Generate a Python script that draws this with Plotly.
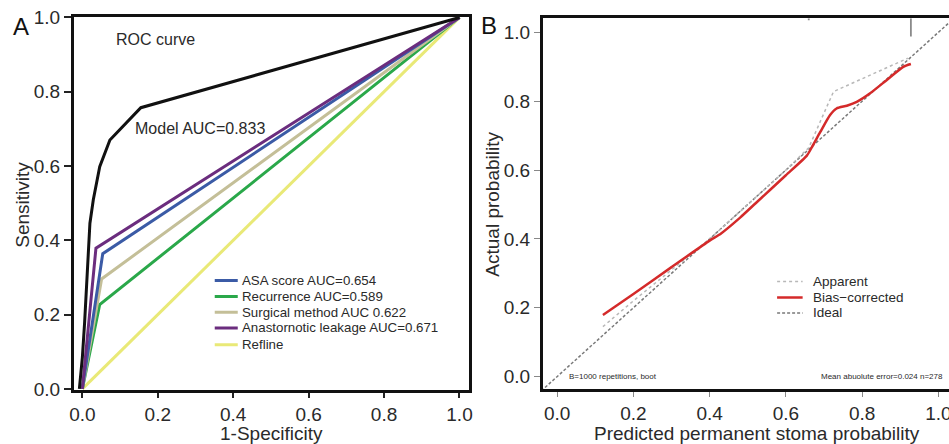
import plotly.graph_objects as go

# ---------------- Panel A data (ROC) ----------------
model_fpr = [-0.008, 0.0, 0.006, 0.011, 0.02, 0.029, 0.038, 0.046, 0.073, 0.155, 1.0]
model_tpr = [0.0, 0.085, 0.18, 0.27, 0.446, 0.509, 0.562, 0.598, 0.67, 0.757, 1.0]

roc_names = ["ASA score AUC=0.654", "Recurrence AUC=0.589",
             "Surgical method AUC 0.622", "Anastornotic leakage AUC=0.671", "Refline"]
roc_colors = ["#3b5ba6", "#2aa84a", "#c4bf98", "#6b2d7e", "#e9e977"]
roc_fpr = [[0, 0.054, 1], [0, 0.046, 1], [0, 0.051, 1], [0, 0.036, 1], [0, 1]]
roc_tpr = [[0, 0.364, 1], [0, 0.227, 1], [0, 0.296, 1], [0, 0.379, 1], [0, 1]]
draw_order = [4, 1, 2, 0, 3]

# ---------------- Panel B data (calibration) ----------------
cal_x = [0.12, 0.2, 0.3, 0.4, 0.43, 0.48, 0.52, 0.6, 0.655, 0.668, 0.69, 0.716,
         0.733, 0.76, 0.786, 0.821, 0.865, 0.908, 0.928]
cal_y = [0.179, 0.24, 0.318, 0.395, 0.416, 0.462, 0.503, 0.585, 0.642, 0.666, 0.71,
         0.76, 0.779, 0.787, 0.798, 0.823, 0.862, 0.9, 0.908]
app_x = [0.12, 0.2, 0.3, 0.4, 0.5, 0.6, 0.66, 0.725, 0.92]
app_y = [0.145, 0.22, 0.31, 0.4, 0.5, 0.6, 0.665, 0.828, 0.925]
ideal_x = [-0.1, 1.1]
ideal_y = [-0.1, 1.1]
rug_x = [0.66, 0.928]
rug_h = [0.006, 0.053]

ticks = [0.0, 0.2, 0.4, 0.6, 0.8, 1.0]
tick_text = ["0.0", "0.2", "0.4", "0.6", "0.8", "1.0"]

FONT = "Liberation Sans, Arial, sans-serif"
TXT = "#2a2a2a"

fig = go.Figure()

# Panel A curves
for i in draw_order:
    fig.add_trace(go.Scatter(x=roc_fpr[i], y=roc_tpr[i], mode="lines",
                             line=dict(color=roc_colors[i], width=3),
                             name=roc_names[i], showlegend=False,
                             xaxis="x", yaxis="y"))
fig.add_trace(go.Scatter(x=model_fpr, y=model_tpr, mode="lines",
                         line=dict(color="#111111", width=3), name="Model",
                         showlegend=False, xaxis="x", yaxis="y"))

# Panel A legend (manual, compact)
legA_rows = [0.292, 0.249, 0.206, 0.164, 0.119]
for k, i in enumerate(range(5)):
    fig.add_trace(go.Scatter(x=[0.351, 0.412], y=[legA_rows[k]] * 2, mode="lines",
                             line=dict(color=roc_colors[i], width=3),
                             showlegend=False, hoverinfo="skip",
                             xaxis="x", yaxis="y"))
    fig.add_annotation(x=0.418, y=legA_rows[k], xref="x", yref="y",
                       text=roc_names[i], showarrow=False, xanchor="left",
                       yanchor="middle", font=dict(family=FONT, size=13.3, color=TXT))

# Panel B curves
fig.add_trace(go.Scatter(x=ideal_x, y=ideal_y, mode="lines",
                         line=dict(color="#7a7a7a", width=1.5, dash="3px,2px"),
                         name="Ideal", showlegend=False, xaxis="x2", yaxis="y2"))
fig.add_trace(go.Scatter(x=app_x, y=app_y, mode="lines",
                         line=dict(color="#b8b8b8", width=1.5, dash="dot"),
                         name="Apparent", showlegend=False, xaxis="x2", yaxis="y2"))
fig.add_trace(go.Scatter(x=cal_x, y=cal_y, mode="lines",
                         line=dict(color="#d42a2a", width=2.5, shape="spline", smoothing=0.6),
                         name="Bias-corrected", showlegend=False, xaxis="x2", yaxis="y2"))

# rug at top of panel B
B_TOP = 1.041
rx, ry = [], []
for xv, hv in zip(rug_x, rug_h):
    rx += [xv, xv, None]
    ry += [B_TOP, B_TOP - hv, None]
fig.add_trace(go.Scatter(x=rx, y=ry, mode="lines", line=dict(color="#8a8a8a", width=1.8),
                         showlegend=False, hoverinfo="skip", xaxis="x2", yaxis="y2"))

# Panel B legend
legB = [("Apparent", dict(color="#b8b8b8", width=1.5, dash="dot")),
        ("Bias\u2212corrected", dict(color="#d42a2a", width=2.5)),
        ("Ideal", dict(color="#7a7a7a", width=1.5, dash="3px,2px"))]
legB_rows = [0.276, 0.23, 0.185]
for (lbl, ln), yy in zip(legB, legB_rows):
    fig.add_trace(go.Scatter(x=[0.577, 0.644], y=[yy, yy], mode="lines", line=ln,
                             showlegend=False, hoverinfo="skip", xaxis="x2", yaxis="y2"))
    fig.add_annotation(x=0.665, y=yy, xref="x2", yref="y2", text=lbl, showarrow=False,
                       xanchor="left", yanchor="middle",
                       font=dict(family=FONT, size=13.5, color=TXT))

# Text annotations
fig.add_annotation(x=0.084, y=0.94, xref="x", yref="y", text="ROC curve", showarrow=False,
                   xanchor="left", yanchor="middle", font=dict(family=FONT, size=16, color=TXT))
fig.add_annotation(x=0.134, y=0.702, xref="x", yref="y", text="Model AUC=0.833",
                   showarrow=False, xanchor="left", yanchor="middle",
                   font=dict(family=FONT, size=16, color=TXT))
fig.add_annotation(x=0.025, y=0.0, xref="x2", yref="y2", text="B=1000 repetitions, boot",
                   showarrow=False, xanchor="left", yanchor="middle",
                   font=dict(family=FONT, size=8, color=TXT))
fig.add_annotation(x=1.018, y=0.0, xref="x2", yref="y2", text="Mean abuolute error=0.024 n=278",
                   showarrow=False, xanchor="right", yanchor="middle",
                   font=dict(family=FONT, size=8, color=TXT))

# axis titles & panel letters (paper coords)
W, H = 949, 444
def px(xp): return xp / W
def py(yp): return 1 - yp / H
fig.add_annotation(x=px(271.5), y=py(433.5), xref="paper", yref="paper", text="1-Specificity",
                   showarrow=False, xanchor="center", yanchor="middle",
                   font=dict(family=FONT, size=19, color=TXT))
fig.add_annotation(x=px(21.7), y=py(205), xref="paper", yref="paper", text="Sensitivity",
                   showarrow=False, textangle=-90, xanchor="center", yanchor="middle",
                   font=dict(family=FONT, size=19, color=TXT))
fig.add_annotation(x=px(756.5), y=py(433), xref="paper", yref="paper",
                   text="Predicted permanent stoma probability",
                   showarrow=False, xanchor="center", yanchor="middle",
                   font=dict(family=FONT, size=19, color=TXT))
fig.add_annotation(x=px(491.7), y=py(204), xref="paper", yref="paper", text="Actual probability",
                   showarrow=False, textangle=-90, xanchor="center", yanchor="middle",
                   font=dict(family=FONT, size=19, color=TXT))
fig.add_annotation(x=px(20.5), y=py(26.5), xref="paper", yref="paper", text="A",
                   showarrow=False, xanchor="center", yanchor="middle",
                   font=dict(family=FONT, size=24, color="#111"))
fig.add_annotation(x=px(488.5), y=py(26), xref="paper", yref="paper", text="B",
                   showarrow=False, xanchor="center", yanchor="middle",
                   font=dict(family=FONT, size=24, color="#111"))

axis_common = dict(tickmode="array", tickvals=ticks, ticktext=tick_text, ticks="outside",
                   showgrid=False, zeroline=False, showline=True, automargin=False,
                   ticklabeloverflow="allow",
                   tickfont=dict(family=FONT, size=19, color=TXT))

fig.update_layout(
    template="none",
    width=W, height=H, margin=dict(l=0, r=0, t=0, b=0, pad=0), autosize=False,
    paper_bgcolor="white", plot_bgcolor="white", showlegend=False,
    xaxis=dict(domain=[73.7 / W, 469.3 / W], range=[-0.023, 1.026], anchor="y",
               mirror=True, linecolor="#111", linewidth=2.5, ticklen=5, tickwidth=1.5,
               tickcolor="#222", **axis_common),
    yaxis=dict(domain=[py(390), py(16.7)], range=[-0.003, 1.002], anchor="x",
               mirror=True, linecolor="#111", linewidth=2.5, ticklen=7, tickwidth=1.5,
               tickcolor="#222", **axis_common),
    xaxis2=dict(domain=[542.7 / W, 1.0], range=[-0.038, 1.028], anchor="y2",
                mirror=True, linecolor="#111", linewidth=2.5, ticklen=5, tickwidth=1,
                tickcolor="#888", **axis_common),
    yaxis2=dict(domain=[py(389.3), py(18.3)], range=[-0.037, B_TOP], anchor="x2",
                mirror=False, linecolor="#111", linewidth=2.5, ticklen=6, tickwidth=1,
                tickcolor="#888", **axis_common),
)

fig.write_html(
    "out.html",
    config={"displayModeBar": False},
    post_script="document.body.style.margin='0px';document.body.style.overflow='hidden';",
)
